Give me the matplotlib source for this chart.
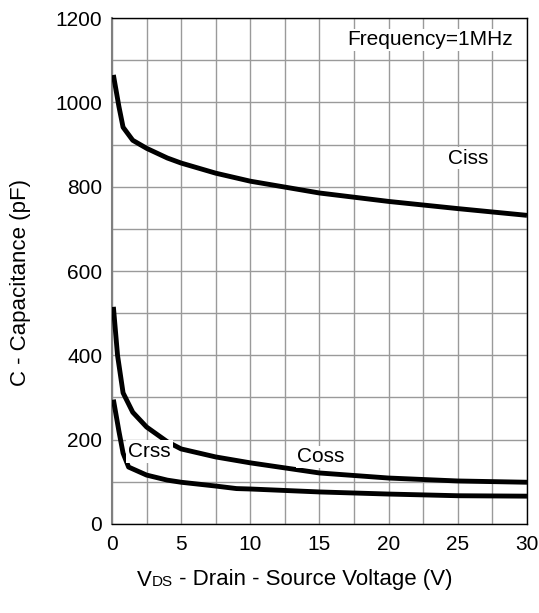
import numpy as np
import matplotlib
matplotlib.use("Agg")
import matplotlib.pyplot as plt
from matplotlib.offsetbox import TextArea, HPacker, AnchoredOffsetbox

plt.rcParams['font.family'] = ['Liberation Sans', 'DejaVu Sans']

# values
vds_ciss = [0.1, 0.5, 0.8, 1.5, 2.5, 4, 5, 7.5, 10, 15, 20, 25, 30]
ciss = [1065, 990, 941, 910, 891, 868, 856, 832, 813, 785, 765, 748, 732]

vds_coss = [0.1, 0.4, 0.8, 1.5, 2.5, 4, 5, 7.5, 10, 15, 20, 25, 30]
coss = [515, 400, 311, 265, 230, 195, 178, 159, 145, 121, 109, 102, 99]

vds_crss = [0.1, 0.5, 0.8, 1.2, 2.5, 4, 5, 7.5, 9, 10, 15, 20, 25, 30]
crss = [295, 220, 168, 135, 116, 104, 99, 90, 84, 83, 76, 71, 67, 66]

xticks = [0, 5, 10, 15, 20, 25, 30]
yticks = [0, 200, 400, 600, 800, 1000, 1200]

fig = plt.figure(figsize=(5.39, 6.13), dpi=100)
ax = fig.add_axes([0.2078, 0.1452, 0.7699, 0.8254])

for xv, yv in [(vds_ciss, ciss), (vds_coss, coss), (vds_crss, crss)]:
    ax.plot(xv, yv, color='black', lw=3.5, solid_capstyle='butt', zorder=3)

ax.set_xlim(0, 30)
ax.set_ylim(0, 1200)
ax.set_xticks(xticks)
ax.set_yticks(yticks)
ax.set_xticks(np.arange(0, 30.1, 2.5), minor=True)
ax.set_yticks(np.arange(0, 1201, 100), minor=True)
ax.grid(True, which='both', color='#9a9a9a', lw=1.0)
ax.set_axisbelow(True)
ax.tick_params(which='both', length=0, labelsize=15)
ax.tick_params(axis='y', pad=7)
ax.tick_params(axis='x', pad=8)
for s in ax.spines.values():
    s.set_color('black')
    s.set_linewidth(1.0)
ax.spines['left'].set_color('#808080')
ax.spines['left'].set_linewidth(1.5)

ax.text(29.0, 1148, 'Frequency=1MHz', ha='right', va='center', fontsize=15,
        bbox=dict(facecolor='white', edgecolor='none', pad=1))
ax.text(24.3, 868, 'Ciss', fontsize=15, va='center', ha='left',
        bbox=dict(facecolor='white', edgecolor='none', pad=1))
ax.text(13.4, 159, 'Coss', fontsize=15, va='center', ha='left',
        bbox=dict(facecolor='white', edgecolor='none', pad=1))
ax.text(1.16, 171, 'Crss', fontsize=15, va='center', ha='left', zorder=4,
        bbox=dict(facecolor='white', edgecolor='none', pad=1.5))

fig.text(21 / 539, 1 - 283 / 613, 'C - Capacitance (pF)', fontsize=16,
         rotation=90, ha='center', va='center')

# x label with small "DS" on the baseline
parts = [TextArea('V', textprops=dict(fontsize=16)),
         TextArea('DS', textprops=dict(fontsize=11)),
         TextArea(' - Drain - Source Voltage (V)', textprops=dict(fontsize=16))]
xlab = HPacker(children=parts, align='baseline', pad=0, sep=0)
box = AnchoredOffsetbox(loc='center', child=xlab, frameon=False,
                        bbox_to_anchor=(295 / 539, 1 - 580 / 613),
                        bbox_transform=fig.transFigure, borderpad=0, pad=0)
fig.add_artist(box)

fig.savefig('out.png', dpi=100)
